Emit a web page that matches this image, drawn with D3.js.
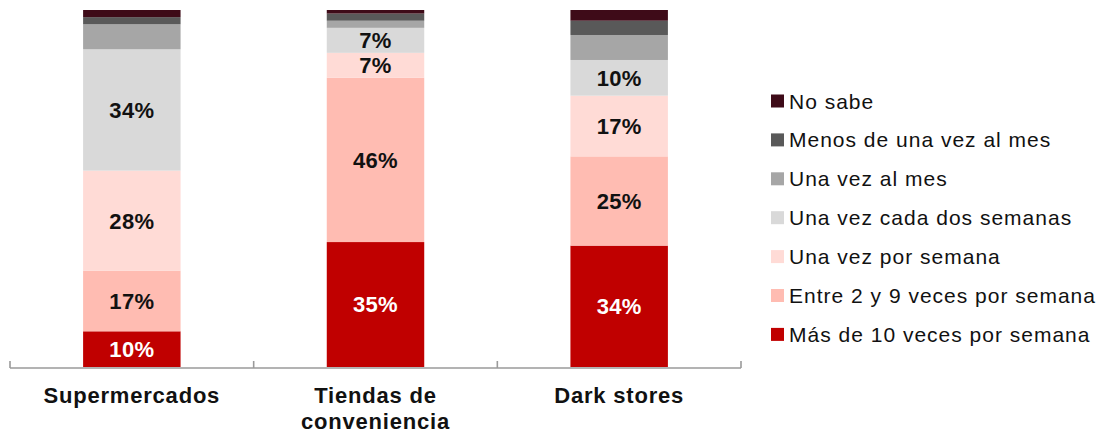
<!DOCTYPE html>
<html>
<head>
<meta charset="utf-8">
<script src="https://cdn.jsdelivr.net/npm/d3@7"></script>
<style>
  body { margin: 0; background: #fff; }
  svg text { font-family: "Liberation Sans", Arial, sans-serif; }
</style>
</head>
<body>
<svg id="chart" width="1104" height="433"></svg>
<script>
// categories and their (possibly multi-line) axis labels
var categories = ["Supermercados", "Tiendas de conveniencia", "Dark stores"];
var categoryLines = [["Supermercados"], ["Tiendas de", "conveniencia"], ["Dark stores"]];

// frequency answers, bottom of the stack first
var keys = ["mas10", "entre2y9", "porSemana", "cadaDos", "alMes", "menosMes", "noSabe"];
var keyNames = ["Más de 10 veces por semana", "Entre 2 y 9 veces por semana", "Una vez por semana",
  "Una vez cada dos semanas", "Una vez al mes", "Menos de una vez al mes", "No sabe"];
var keyColors = ["#c00000", "#ffbcb2", "#ffdbd6", "#d9d9d9", "#a6a6a6", "#595959", "#3e0b18"];

// shares (%) per category, same order as categories
var mas10     = [10, 35, 34];
var entre2y9  = [17, 46, 25];
var porSemana = [28, 7, 17];
var cadaDos   = [34, 7, 10];
var alMes     = [7, 2, 7];
var menosMes  = [2, 2, 4];
var noSabe    = [2, 1, 3];

// which segments carry a value label
var labelShown = {
  mas10: [true, true, true],
  entre2y9: [true, true, true],
  porSemana: [true, true, true],
  cadaDos: [true, true, true],
  alMes: [false, false, false],
  menosMes: [false, false, false],
  noSabe: [false, false, false]
};

var seriesValues = { mas10: mas10, entre2y9: entre2y9, porSemana: porSemana, cadaDos: cadaDos,
  alMes: alMes, menosMes: menosMes, noSabe: noSabe };

var table = categories.map(function (c, i) {
  var row = { category: c };
  keys.forEach(function (k) { row[k] = seriesValues[k][i]; });
  return row;
});

var svg = d3.select("#chart");

var x = d3.scaleBand().domain(categories).range([10, 741]).padding(0);
var barWidth = x.bandwidth() * 0.4;
var y = d3.scaleLinear().domain([0, 100]).range([367, 10]);
var color = d3.scaleOrdinal().domain(keys).range(keyColors);

var stacked = d3.stack().keys(keys)(table);

var layers = svg.append("g").selectAll("g")
  .data(stacked)
  .enter().append("g")
  .attr("fill", function (d) { return color(d.key); });

layers.selectAll("rect")
  .data(function (d) { return d; })
  .enter().append("rect")
  .attr("x", function (d) { return x(d.data.category) + (x.bandwidth() - barWidth) / 2; })
  .attr("width", barWidth)
  .attr("y", function (d) { return y(d[1]); })
  .attr("height", function (d) { return y(d[0]) - y(d[1]); });

// value labels inside segments
stacked.forEach(function (layer) {
  layer.forEach(function (d, i) {
    if (!labelShown[layer.key][i]) return;
    svg.append("text")
      .attr("x", x(d.data.category) + x.bandwidth() / 2)
      .attr("y", (y(d[0]) + y(d[1])) / 2)
      .attr("dy", "0.36em")
      .attr("text-anchor", "middle")
      .attr("font-size", 22)
      .attr("font-weight", "bold")
      .attr("letter-spacing", 0.3)
      .attr("fill", layer.key === "mas10" ? "#ffffff" : "#111111")
      .text((d[1] - d[0]) + "%");
  });
});

// baseline with upward ticks between categories
var axis = svg.append("g").attr("stroke", "#9a9a9a").attr("stroke-width", 1.6);
axis.append("line")
  .attr("x1", x.range()[0]).attr("x2", x.range()[1])
  .attr("y1", y(0) + 1).attr("y2", y(0) + 1);
var tickXs = categories.map(function (c) { return x(c); }).concat([x.range()[1]]);
axis.selectAll("line.tick")
  .data(tickXs)
  .enter().append("line")
  .attr("class", "tick")
  .attr("x1", function (d) { return d; }).attr("x2", function (d) { return d; })
  .attr("y1", y(0) - 6).attr("y2", y(0) + 1);

// category labels
categories.forEach(function (c, i) {
  var t = svg.append("text")
    .attr("x", x(c) + x.bandwidth() / 2)
    .attr("y", 403)
    .attr("text-anchor", "middle")
    .attr("font-size", 22)
    .attr("font-weight", "bold")
    .attr("letter-spacing", 0.8)
    .attr("fill", "#111111");
  categoryLines[i].forEach(function (line, j) {
    t.append("tspan")
      .attr("x", x(c) + x.bandwidth() / 2)
      .attr("dy", j === 0 ? 0 : 26)
      .text(line);
  });
});

// legend, top entry is the top of the stack
var legendKeys = keys.slice().reverse();
var legend = svg.append("g").attr("transform", "translate(771,101)");
var items = legend.selectAll("g")
  .data(legendKeys)
  .enter().append("g")
  .attr("transform", function (d, i) { return "translate(0," + (i * 38.9) + ")"; });
items.append("rect")
  .attr("x", 0).attr("y", -6.5)
  .attr("width", 13).attr("height", 13)
  .attr("fill", function (d) { return color(d); });
items.append("text")
  .attr("x", 18)
  .attr("dy", "0.36em")
  .attr("font-size", 21)
  .attr("letter-spacing", 1.0)
  .attr("fill", "#111111")
  .text(function (d) { return keyNames[keys.indexOf(d)]; });
</script>
</body>
</html>
